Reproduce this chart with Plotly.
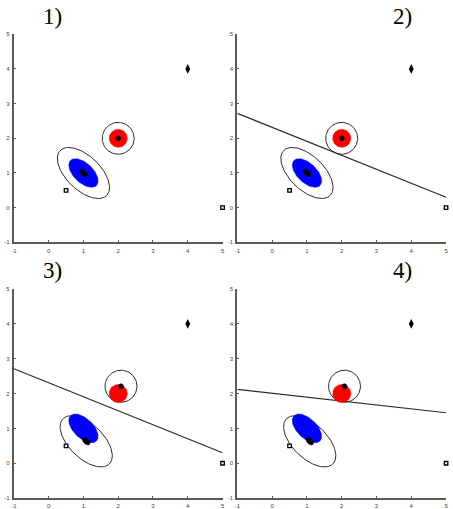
import numpy as np
import plotly.graph_objects as go

# ---------------- data ----------------
PANEL_TITLES = ["1)", "2)", "3)", "4)"]
TICK_VALUES = [-1, 0, 1, 2, 3, 4, 5]
TICK_LABELS = ["-1", "0", "1", "2", "3", "4", "5"]

# true distributions (filled)
BLUE_CENTER = [1.0, 1.0]
BLUE_AXES = [0.52, 0.28]          # semi-major, semi-minor
BLUE_ANGLE = -44.0                # degrees
RED_CENTER = [2.0, 2.0]
RED_RADIUS = 0.26

# estimated means per panel (black dots + outer contours)
EST_BLUE_X = [1.0, 1.0, 1.08, 1.08]
EST_BLUE_Y = [1.0, 1.0, 0.63, 0.63]
EST_RED_X = [2.0, 2.0, 2.08, 2.08]
EST_RED_Y = [2.0, 2.0, 2.21, 2.21]
OUTER_BLUE_AXES = [0.93, 0.49]
OUTER_RED_RADIUS = 0.46
DOT_BLUE_AXES = [0.13, 0.08]
DOT_RED_RADIUS = 0.075

# decision line per panel: y at x=-1 and x=5 (None = no line)
LINE_X = [-1, 5]
LINE_Y = [None, [2.72, 0.30], [2.71, 0.30], [2.12, 1.45]]

# isolated points
DIAMOND_X = [4.0]
DIAMOND_Y = [4.0]
SQUARE_X = [0.5, 5.0]
SQUARE_Y = [0.5, 0.0]

# ---------------- helpers ----------------
def ellipse(cx, cy, a, b, ang_deg, n=120):
    t = np.linspace(0, 2 * np.pi, n)
    th = np.deg2rad(ang_deg)
    x = cx + a * np.cos(t) * np.cos(th) - b * np.sin(t) * np.sin(th)
    y = cy + a * np.cos(t) * np.sin(th) + b * np.sin(t) * np.cos(th)
    return x, y

W, H = 453, 509
XDOM = [[11 / W, 222 / W], [237 / W, 448 / W]]
YDOM = [[1 - 242.7 / H, 1 - 31.7 / H], [1 - 502 / H, 1 - 290 / H]]

fig = go.Figure()
AX_COLOR = "#5a5a5a"
OUT_COLOR = "#2a2a2a"

for p in range(4):
    xa = "x" if p == 0 else f"x{p + 1}"
    ya = "y" if p == 0 else f"y{p + 1}"
    common = dict(xaxis=xa, yaxis=ya, showlegend=False, hoverinfo="skip", cliponaxis=False)

    ox, oy = ellipse(EST_BLUE_X[p], EST_BLUE_Y[p], OUTER_BLUE_AXES[0], OUTER_BLUE_AXES[1], BLUE_ANGLE)
    fig.add_trace(go.Scatter(x=ox, y=oy, mode="lines", line=dict(color=OUT_COLOR, width=1), **common))
    ox, oy = ellipse(EST_RED_X[p], EST_RED_Y[p], OUTER_RED_RADIUS, OUTER_RED_RADIUS, 0)
    fig.add_trace(go.Scatter(x=ox, y=oy, mode="lines", line=dict(color=OUT_COLOR, width=1), **common))

    if LINE_Y[p] is not None:
        fig.add_trace(go.Scatter(x=LINE_X, y=LINE_Y[p], mode="lines",
                                 line=dict(color=OUT_COLOR, width=1.2), **common))

    bx, by = ellipse(BLUE_CENTER[0], BLUE_CENTER[1], BLUE_AXES[0], BLUE_AXES[1], BLUE_ANGLE)
    fig.add_trace(go.Scatter(x=bx, y=by, mode="lines", fill="toself", fillcolor="#0000ff",
                             line=dict(color="#0000ff", width=0.5), **common))
    rx, ry = ellipse(RED_CENTER[0], RED_CENTER[1], RED_RADIUS, RED_RADIUS, 0)
    fig.add_trace(go.Scatter(x=rx, y=ry, mode="lines", fill="toself", fillcolor="#ff0000",
                             line=dict(color="#ff0000", width=0.5), **common))

    dx, dy = ellipse(EST_BLUE_X[p], EST_BLUE_Y[p], DOT_BLUE_AXES[0], DOT_BLUE_AXES[1], BLUE_ANGLE)
    fig.add_trace(go.Scatter(x=dx, y=dy, mode="lines", fill="toself", fillcolor="black",
                             line=dict(color="black", width=0.5), **common))
    dx, dy = ellipse(EST_RED_X[p], EST_RED_Y[p], DOT_RED_RADIUS, DOT_RED_RADIUS, 0)
    fig.add_trace(go.Scatter(x=dx, y=dy, mode="lines", fill="toself", fillcolor="black",
                             line=dict(color="black", width=0.5), **common))

    fig.add_trace(go.Scatter(x=DIAMOND_X, y=DIAMOND_Y, mode="markers",
                             marker=dict(symbol="diamond-tall", size=7, color="black"), **common))
    fig.add_trace(go.Scatter(x=SQUARE_X, y=SQUARE_Y, mode="markers",
                             marker=dict(symbol="square", size=3.5, color="white",
                                         line=dict(color="black", width=1.3)), **common))

axis_style = dict(range=[-1, 5], tickvals=TICK_VALUES, ticktext=TICK_LABELS,
                  showline=True, linecolor=AX_COLOR, linewidth=2,
                  ticks="inside", ticklen=2, tickcolor=AX_COLOR, tickwidth=1,
                  tickfont=dict(size=6, color="#444", family="Liberation Sans"),
                  showgrid=False, zeroline=False, fixedrange=True, mirror=False)

layout = dict(width=W, height=H, margin=dict(l=0, r=0, t=0, b=0),
              paper_bgcolor="white", plot_bgcolor="white")
for p in range(4):
    row, col = divmod(p, 2)
    xk = "xaxis" if p == 0 else f"xaxis{p + 1}"
    yk = "yaxis" if p == 0 else f"yaxis{p + 1}"
    xa = "x" if p == 0 else f"x{p + 1}"
    ya = "y" if p == 0 else f"y{p + 1}"
    layout[xk] = dict(axis_style, domain=XDOM[col], anchor=ya, ticklabelstandoff=1)
    layout[yk] = dict(axis_style, domain=YDOM[row], anchor=xa, ticklabelstandoff=1)

fig.update_layout(**layout)

TITLE_POS = [(50, 14), (404, 14), (50, 271), (404, 271)]
for p in range(4):
    px, py = TITLE_POS[p]
    fig.add_annotation(text=PANEL_TITLES[p], x=px / W, y=1 - py / H,
                       xref="paper", yref="paper",
                       showarrow=False, xanchor="center", yanchor="middle",
                       font=dict(family="Liberation Serif", size=23, color="black"))

fig.write_html("out.html", config={"displayModeBar": False},
               post_script="document.body.style.margin='0';document.body.style.overflow='hidden';")
